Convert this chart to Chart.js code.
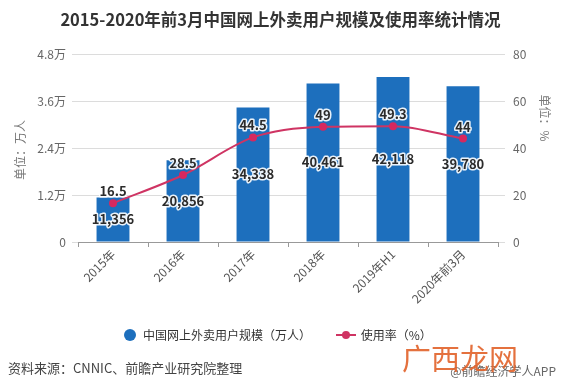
<!DOCTYPE html>
<html><head><meta charset="utf-8">
<script src="https://cdn.jsdelivr.net/npm/chart.js@4.4.1/dist/chart.umd.min.js"></script>
<style>
html,body{margin:0;padding:0;background:#fff;}
#wrap{position:relative;width:561px;height:388px;overflow:hidden;font-family:"Noto Sans CJK SC","Noto Sans",sans-serif;}
canvas{position:absolute;left:0;top:0;}
.ov{position:absolute;white-space:nowrap;}
</style></head><body>
<div id="wrap">
<canvas id="c" width="561" height="388"></canvas>
<div class="ov" id="title" style="left:0;width:561px;top:7px;text-align:center;font-weight:bold;font-size:16.5px;color:#333;">2015-2020年前3月中国网上外卖用户规模及使用率统计情况</div>
<div class="ov" style="left:124px;top:326px;font-size:12px;color:#333;line-height:18px;">
<span style="display:inline-block;width:12px;height:12px;border-radius:6px;background:#1d6fbd;vertical-align:-1px;margin-right:7px;"></span>中国网上外卖用户规模（万人）
<span style="display:inline-block;position:relative;width:20px;height:12px;margin-left:22px;margin-right:5px;vertical-align:-1px;"><span style="position:absolute;left:0;top:5px;width:20px;height:2px;background:#cf3463;"></span><span style="position:absolute;left:6px;top:2px;width:8px;height:8px;border-radius:4px;background:#cf3463;"></span></span>使用率（%）</div>
<div class="ov" style="left:8px;top:358px;font-size:13px;color:#444;">资料来源：CNNIC、前瞻产业研究院整理</div>
<div class="ov" style="right:5px;top:362px;font-size:12px;color:#666;">@前瞻经济学人APP</div>
<div class="ov" style="left:402px;top:336px;font-size:29px;color:#e2622a;opacity:0.9;">广西龙网</div>
</div>
<script>
const categories = ["2015年","2016年","2017年","2018年","2019年H1","2020年前3月"];
const users = [11356,20856,34338,40461,42118,39780];
const rate = [16.5,28.5,44.5,49,49.3,44];
const leftTicks = [0,12000,24000,36000,48000];
const leftTickLabels = ["0","1.2万","2.4万","3.6万","4.8万"];
const rightTicks = [0,20,40,60,80];

const FONT = '"Noto Sans CJK SC","Noto Sans",sans-serif';

const labelPlugin = {
  id:'vals',
  afterDatasetsDraw(chart){
    const ctx = chart.ctx;
    ctx.save();
    ctx.font = 'bold 13px ' + FONT;
    ctx.textAlign = 'center';
    ctx.textBaseline = 'middle';
    ctx.lineJoin = 'round';
    const drawT = (t,x,y)=>{
      ctx.lineWidth = 3; ctx.strokeStyle = 'rgba(255,255,255,0.9)';
      ctx.strokeText(t,x,y);
      ctx.fillStyle = '#2b2b2b';
      ctx.fillText(t,x,y);
    };
    const m0 = chart.getDatasetMeta(0);
    m0.data.forEach((b,i)=>{
      const mid = (b.y + b.base)/2;
      drawT(users[i].toLocaleString('en-US'), b.x, mid);
    });
    const m1 = chart.getDatasetMeta(1);
    m1.data.forEach((p,i)=>{
      drawT(String(rate[i]), p.x, p.y - 12);
    });
    ctx.restore();
  }
};

const axisTitles = {
  id:'axt',
  afterDraw(chart){
    const ctx = chart.ctx;
    ctx.save();
    ctx.font = '12px ' + FONT;
    ctx.fillStyle = '#777';
    ctx.textAlign='center'; ctx.textBaseline='middle';
    ctx.translate(20,150); ctx.rotate(-Math.PI/2);
    ctx.fillText('单位：万人',0,0);
    ctx.restore();
    ctx.save();
    ctx.font = '12px ' + FONT;
    ctx.fillStyle = '#777';
    ctx.textAlign='center'; ctx.textBaseline='middle';
    ctx.translate(545,118); ctx.rotate(Math.PI/2);
    ctx.fillText('单位：%',0,0);
    ctx.restore();
  }
};

new Chart(document.getElementById('c'),{
  data:{
    labels:categories,
    datasets:[
      {type:'bar',label:'中国网上外卖用户规模（万人）',data:users,backgroundColor:'#1d6fbd',yAxisID:'y',barPercentage:0.47,categoryPercentage:1,order:2},
      {type:'line',label:'使用率（%）',data:rate,borderColor:'#cf3463',backgroundColor:'#cf3463',borderWidth:2,pointRadius:4,pointBackgroundColor:'#d6285f',pointBorderWidth:0,cubicInterpolationMode:'monotone',yAxisID:'y1',order:1}
    ]
  },
  options:{
    responsive:false,animation:false,
    layout:{padding:{top:54,left:0,right:0,bottom:0}},
    plugins:{legend:{display:false},tooltip:{enabled:false}},
    scales:{
      x:{
        grid:{drawOnChartArea:false,drawTicks:true,tickLength:5,color:'#999'},
        border:{color:'#999'},
        ticks:{maxRotation:45,minRotation:45,color:'#555',font:{size:12,family:FONT},padding:0},
        afterFit(s){s.height=146;}
      },
      y:{
        position:'left',min:0,max:48000,
        afterBuildTicks(s){s.ticks=leftTicks.map(v=>({value:v}));},
        ticks:{color:'#666',font:{size:12,family:FONT},padding:6,callback:(v,i)=>leftTickLabels[i]},
        grid:{color:'#dcdcdc',drawTicks:true,tickLength:6},
        border:{display:false},
        afterFit(s){s.width=78;}
      },
      y1:{
        position:'right',min:0,max:80,
        afterBuildTicks(s){s.ticks=rightTicks.map(v=>({value:v}));},
        ticks:{color:'#666',font:{size:12,family:FONT},padding:8},
        grid:{drawOnChartArea:false,drawTicks:true,tickLength:7,color:'#dcdcdc'},
        border:{display:false},
        afterFit(s){s.width=63;}
      }
    }
  },
  plugins:[labelPlugin,axisTitles]
});
</script>
</body></html>
